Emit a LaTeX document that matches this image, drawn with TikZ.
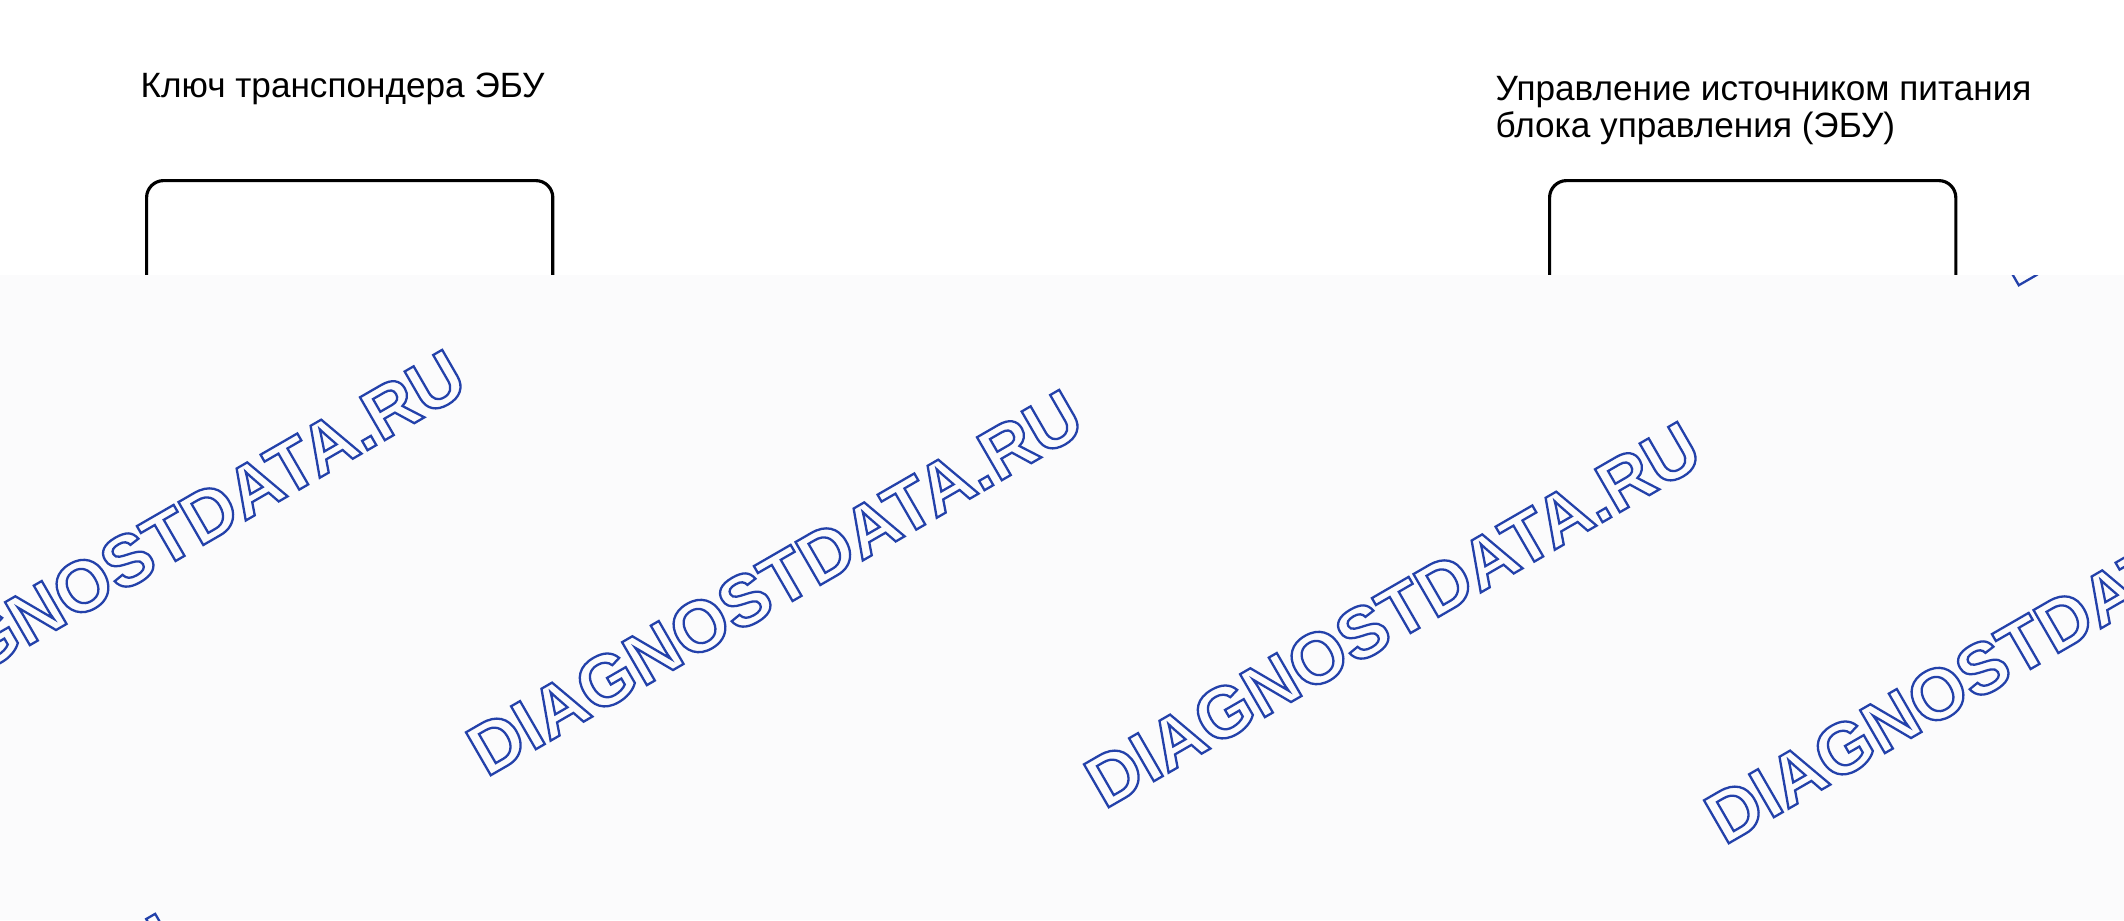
\documentclass[tikz,border=0pt]{standalone}
\usepackage{fontspec}
\setmainfont{Liberation Sans}
\usepackage{tikz}
\usetikzlibrary{positioning}
\definecolor{veil}{RGB}{251,251,252}
\definecolor{wmblue}{RGB}{35,65,170}
\newcommand{\outlinetext}[1]{\special{pdf:code 1 Tr 0.65 w}#1\special{pdf:code 0 Tr}}

\begin{document}
\begin{tikzpicture}[x=0.01cm,y=-0.01cm,
    caption/.style={anchor=base west,inner sep=0pt,font=\fontsize{10}{10.5}\selectfont,align=left},
    unit/.style={draw,line width=0.9pt,rounded corners=0.17cm,minimum width=4.06cm,minimum height=6cm,anchor=north west,inner sep=0pt},
    stamp/.style={anchor=base west,inner sep=0pt,rotate=30,text=wmblue,font=\fontsize{20.5}{20.5}\selectfont\bfseries}]
    \useasboundingbox (0,0) rectangle (2124,920);

    \node[caption] (keylabel) at (140,97) {Ключ транспондера ЭБУ};
    % base anchor sits on the last line
    \node[caption] (powerlabel) at (1495,137) {Управление источником питания\\блока управления (ЭБУ)};
    \node[unit] (keybox) at (145,179) {};
    \node[unit] (powerbox) at (1548,179) {};

    % watermark
    \fill[veil] (0,275) rectangle (2124,920);
    \begin{scope}
        \clip (0,275) rectangle (2124,920);
        \foreach \x/\y [count=\i] in {-131/738,486/778,1104/810,1724/846,2014/288,-418/1302}
            \node[stamp] (stamp\i) at (\x,\y) {\outlinetext{DIAGNOSTDATA.RU}};
    \end{scope}
\end{tikzpicture}
\end{document}
